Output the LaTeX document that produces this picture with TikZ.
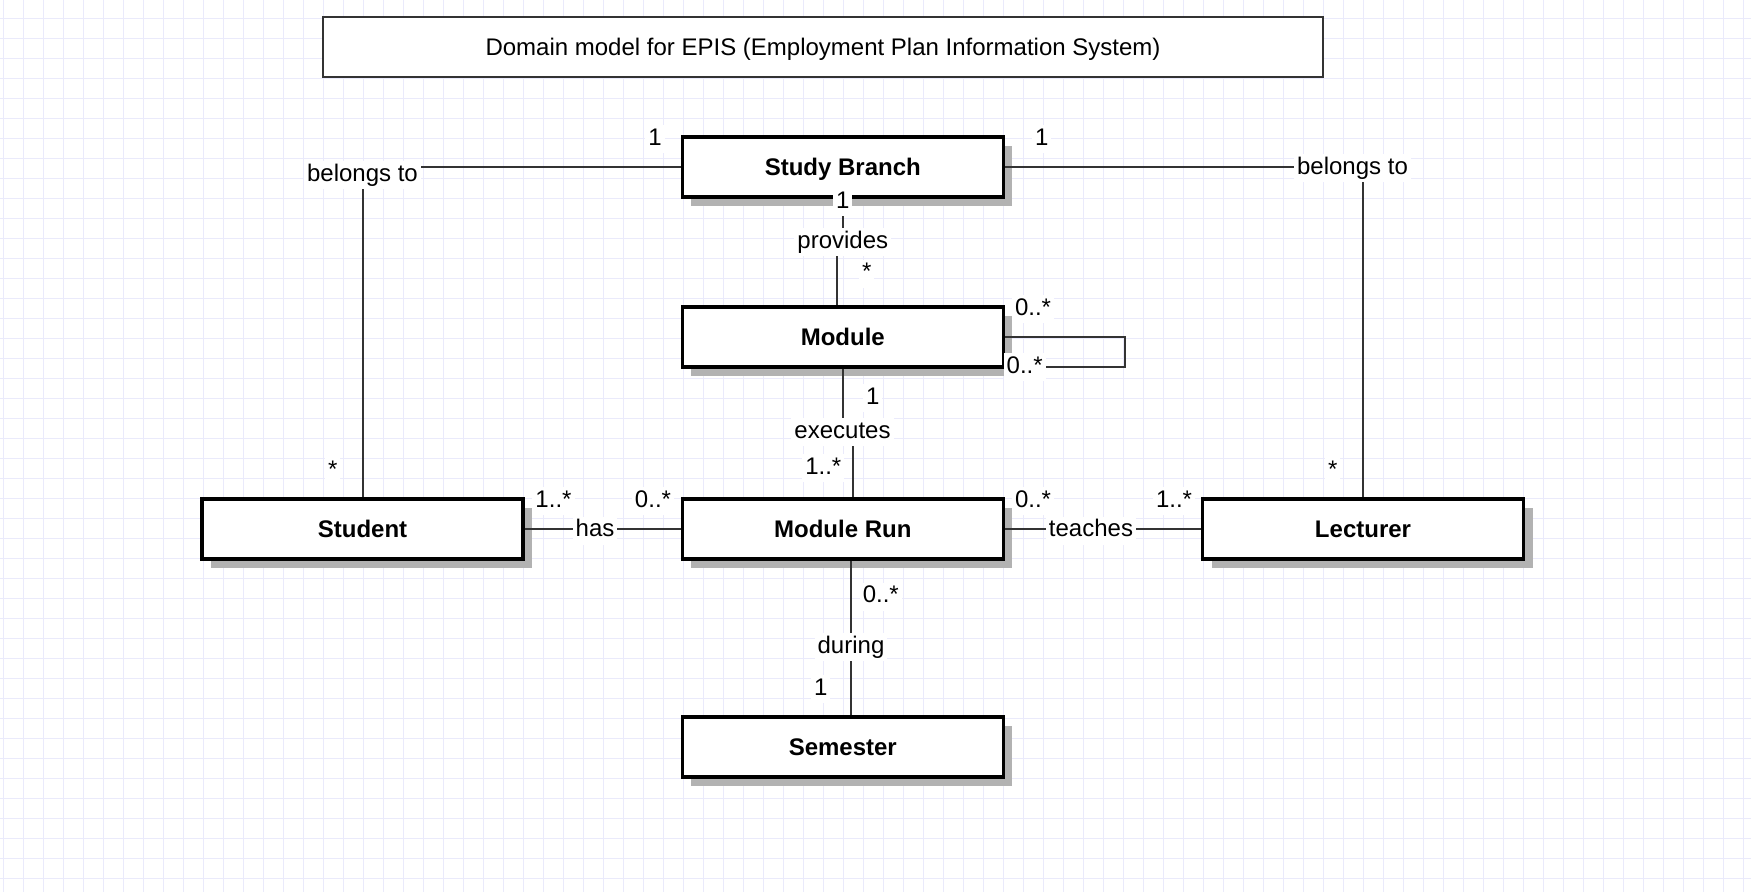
\documentclass[tikz,border=0pt]{standalone}
\usepackage{fontspec}
\setmainfont{Liberation Sans}
\usetikzlibrary{shadows}
\definecolor{gridc}{RGB}{234,234,251}
\definecolor{edgec}{RGB}{51,51,51}
\begin{document}
\begin{tikzpicture}[x=1pt,y=-1pt,
  txt/.style={font=\fontsize{24}{28}\selectfont},
  cls/.style={txt, draw=black, line width=3.3pt, fill=white, minimum width=321pt, minimum height=60pt,
    inner sep=0pt, text height=17pt, text depth=1pt, font=\fontsize{24}{28}\selectfont\bfseries,
    drop shadow={shadow xshift=9pt, shadow yshift=-9pt, fill=black!30, opacity=1}},
  titlebox/.style={txt, draw=edgec, line width=1.7pt, fill=white, minimum width=1000pt, minimum height=60pt,
    inner sep=0pt, text height=17pt, text depth=1pt},
  lbl/.style={txt, fill=white, inner sep=3pt, text height=17pt, text depth=5pt, anchor=base},
  edge/.style={draw=edgec, line width=2pt}
]
\useasboundingbox (0,0) rectangle (1751,892);
\fill[white] (0,0) rectangle (1751,892);
\foreach \x in {3.3,23.3,...,1750} \draw[gridc, line width=1pt] (\x,0) -- (\x,892);
\foreach \y in {18.3,38.3,...,891} \draw[gridc, line width=1pt] (0,\y) -- (1751,\y);

\node[titlebox] (title) at (823,47) {Domain model for EPIS (Employment Plan Information System)};

\node[cls] (sb)  at (842.8,167) {Study Branch};
\node[cls] (mod) at (842.8,337) {Module};
\node[cls] (mr)  at (842.8,529) {Module Run};
\node[cls] (sem) at (842.8,747) {Semester};
\node[cls] (stu) at (362.5,529) {Student};
\node[cls] (lec) at (1363,529) {Lecturer};

\draw[edge] (sb.west) -| (stu.north);
\draw[edge] (sb.east) -| (lec.north);
\draw[edge] (sb.south) -- ++(0,44) -| ([xshift=-6pt]mod.north);
\draw[edge] (mod.south) -- ++(0,62) -| ([xshift=10pt]mr.north);
\draw[edge] ([xshift=8.2pt]mr.south) -- ([xshift=8.2pt]sem.north);
\draw[edge] (stu.east) -- (mr.west);
\draw[edge] (mr.east) -- (lec.west);
\draw[edge] (mod.east) -- ++(120.5,0) |- ([yshift=1.5pt]mod.south east);

% association names
\node[lbl] (lbelL) at (362.5,181) {belongs to};
\node[lbl] (lbelR) at (1352.5,174.3) {belongs to};
\node[lbl] (lprov) at (842.8,248.3) {provides};
\node[lbl] (lexec) at (842.5,438.3) {executes};
\node[lbl] (lhas)  at (595,536.6) {has};
\node[lbl] (lteach) at (1091,536.6) {teaches};
\node[lbl] (ldur)  at (851,653.3) {during};

% multiplicities
\node[lbl] (m1) at (655,145) {1};
\node[lbl] (m2) at (1041.7,145) {1};
\node[lbl] (m3) at (842.7,208.3) {1};
\node[lbl] (m4) at (866.7,279.5) {*};
\node[lbl] (m5) at (1033,315) {0..*};
\node[lbl] (m6) at (1024.7,373.3) {0..*};
\node[lbl] (m7) at (872.7,404.3) {1};
\node[lbl] (m8) at (823.3,474.3) {1..*};
\node[lbl] (m9) at (880.8,602.7) {0..*};
\node[lbl] (m10) at (820.7,695) {1};
\node[lbl] (m11) at (332.7,477.5) {*};
\node[lbl] (m12) at (1332.7,477.5) {*};
\node[lbl] (m13) at (553.5,507) {1..*};
\node[lbl] (m14) at (653,507) {0..*};
\node[lbl] (m15) at (1033,507) {0..*};
\node[lbl] (m16) at (1174,507) {1..*};
\end{tikzpicture}
\end{document}
